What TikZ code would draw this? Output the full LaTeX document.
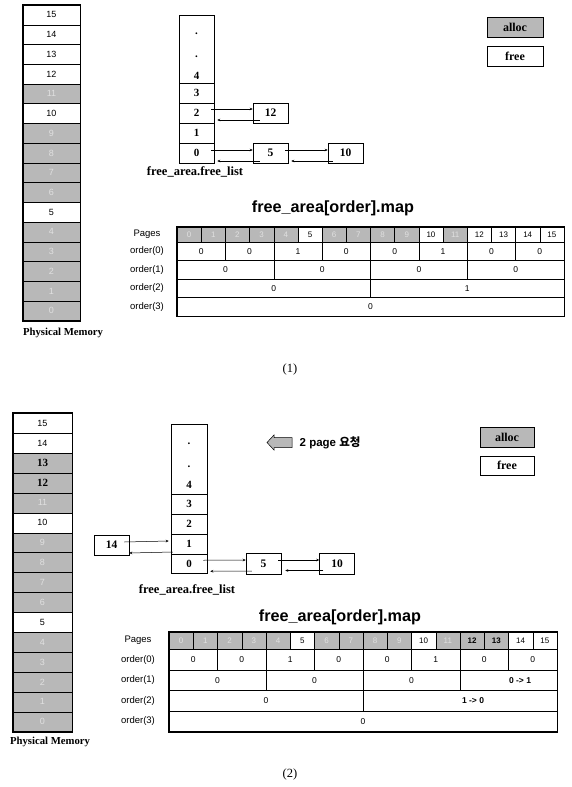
\documentclass[tikz,border=0pt]{standalone}
\usepackage{fontspec}
\setmainfont{Liberation Serif}
\setsansfont{Liberation Sans}
\newfontfamily\kr{Noto Sans CJK KR}
\usetikzlibrary{arrows.meta,calc}
\definecolor{shade}{gray}{0.72}
\tikzset{
  mem/.style={draw, line width=0.4pt, minimum width=57pt, inner sep=0pt, font=\sffamily\fontsize{9}{10}\selectfont},
  fr/.style={fill=white},
  al/.style={fill=shade, text=black!12},
  alb/.style={fill=shade, text=black, font=\rmfamily\bfseries\fontsize{11}{12}\selectfont},
  outerline/.style={draw, line width=1.3pt},
  flcell/.style={draw, line width=0.5pt, minimum width=35pt, minimum height=20pt, inner sep=0pt, font=\rmfamily\bfseries\fontsize{11}{12}\selectfont},
  fltxt/.style={inner sep=0pt, font=\rmfamily\bfseries\fontsize{11}{12}\selectfont},
  lbox/.style={draw, line width=0.5pt, minimum width=35pt, minimum height=20.5pt, inner sep=0pt, font=\rmfamily\bfseries\fontsize{11.5}{12}\selectfont},
  conn/.style={-{Stealth[length=3pt,width=2.6pt]}, line width=0.5pt},
  lbl/.style={inner sep=0pt, font=\rmfamily\bfseries\fontsize{10.7}{12}\selectfont},
  fllbl/.style={inner sep=0pt, font=\rmfamily\bfseries\fontsize{12.5}{13}\selectfont},
  leg/.style={draw, line width=0.6pt, inner sep=0pt, font=\rmfamily\bfseries\fontsize{12}{13}\selectfont},
  maptitle/.style={inner sep=0pt, font=\sffamily\bfseries\fontsize{16.2}{18}\selectfont},
  rowlbl/.style={inner sep=0pt, font=\sffamily\fontsize{9.5}{11}\selectfont},
  tcell/.style={draw, line width=0.4pt, inner sep=0pt, font=\sffamily\fontsize{8.5}{9}\selectfont},
  pcell/.style={draw, line width=0.4pt, inner sep=0pt, font=\sffamily\fontsize{8}{9}\selectfont},
  talb/.style={fill=shade, text=black, font=\sffamily\bfseries\fontsize{8}{9}\selectfont},
  chg/.style={inner sep=0pt, font=\sffamily\bfseries\fontsize{8.5}{9}\selectfont},
  captxt/.style={inner sep=0pt, font=\rmfamily\fontsize{12.5}{14}\selectfont},
}
\begin{document}
\begin{tikzpicture}[x=1pt,y=-1pt]
\useasboundingbox (0,0) rectangle (571,787);

%%%%%%%%%%%%%%%% PART 1 %%%%%%%%%%%%%%%%
% physical memory
\foreach \n/\s [count=\k from 0] in {15/fr,14/fr,13/fr,12/fr,11/al,10/fr,9/al,8/al,7/al,6/al,5/fr,4/al,3/al,2/al,1/al,0/al}
  \node[mem,\s,minimum height=19.73pt] (ma\n) at (51.5,{5+19.73*(\k+0.5)}) {\n};
\draw[outerline] (ma15.north west) rectangle (ma0.south east);
\node[lbl] (pma) at (63,333) {Physical Memory};

% free list
\node[flcell, minimum height=68pt] (fa-top) at (196.5,49) {};
\node[fltxt, anchor=base] (fa-d1) at (196.5,34) {.};
\node[fltxt, anchor=base] (fa-d2) at (196.5,57) {.};
\node[fltxt] (fa-4) at (196.5,76) {4};
\node[flcell] (fa-3) at (196.5,93) {3};
\node[flcell] (fa-2) at (196.5,113) {2};
\node[flcell] (fa-1) at (196.5,133) {1};
\node[flcell] (fa-0) at (196.5,153) {0};
\node[lbox] (ba-12) at (270.5,113) {12};
\node[lbox] (ba-5) at (270.5,153) {5};
\node[lbox] (ba-10) at (345.5,153) {10};
\node[fllbl] (fla) at (195,172) {free\_area.free\_list};

\draw[conn] ($(fa-2.east)+(-3,-4)$) -- ($(ba-12.west)+(0,-4)$);
\draw[conn] ($(ba-12.west)+(7,7)$) -- ($(fa-2.east)+(3,7)$);
\draw[conn] ($(fa-0.east)+(-3,-3)$) -- ($(ba-5.west)+(0,-3)$);
\draw[conn] ($(ba-5.west)+(7,8)$) -- ($(fa-0.east)+(3,8)$);
\draw[conn] ($(ba-5.east)+(-3,-3)$) -- ($(ba-10.west)+(0,-3)$);
\draw[conn] ($(ba-10.west)+(5,8)$) -- ($(ba-5.east)+(3,8)$);

% legend
\node[leg, fill=shade, minimum width=56pt, minimum height=20pt] (lga) at (515,27) {alloc};
\node[leg, minimum width=56pt, minimum height=20pt] (lfa) at (515,56) {free};

% map
\node[maptitle] (ta) at (333,208) {free\_area[order].map};
\node[rowlbl] (ra-p) at (147,234.5) {Pages};
\node[rowlbl] (ra-0) at (147,251.25) {order(0)};
\node[rowlbl] (ra-1) at (147,269.75) {order(1)};
\node[rowlbl] (ra-2) at (147,288.25) {order(2)};
\node[rowlbl] (ra-3) at (147,306.75) {order(3)};
\foreach \i/\s in {0/al,1/al,2/al,3/al,4/al,5/fr,6/al,7/al,8/al,9/al,10/fr,11/al,12/fr,13/fr,14/fr,15/fr}
  \node[pcell,\s,minimum width=24.1875pt,minimum height=15pt] (pa\i) at ({177+24.1875*(\i+0.5)},234.5) {\i};
\foreach \v [count=\j from 0] in {0,0,1,0,0,1,0,0}
  \node[tcell,minimum width=48.375pt,minimum height=18.5pt] (oa0-\j) at ({177+48.375*(\j+0.5)},251.25) {\v};
\foreach \v [count=\j from 0] in {0,0,0,0}
  \node[tcell,minimum width=96.75pt,minimum height=18.5pt] (oa1-\j) at ({177+96.75*(\j+0.5)},269.75) {\v};
\foreach \v [count=\j from 0] in {0,1}
  \node[tcell,minimum width=193.5pt,minimum height=18.5pt] (oa2-\j) at ({177+193.5*(\j+0.5)},288.25) {\v};
\node[tcell,minimum width=387pt,minimum height=18.5pt] (oa3-0) at (370.5,306.75) {0};
\draw[outerline] (pa0.north west) rectangle (oa3-0.south east);

\node[captxt] (c1) at (290,369) {(1)};

%%%%%%%%%%%%%%%% PART 2 %%%%%%%%%%%%%%%%
\foreach \n/\s [count=\k from 0] in {15/fr,14/fr,13/alb,12/alb,11/al,10/fr,9/al,8/al,7/al,6/al,5/fr,4/al,3/al,2/al,1/al,0/al}
  \node[mem,\s,minimum height=19.9pt,minimum width=59pt] (mb\n) at (42.5,{413.3+19.9*(\k+0.5)}) {\n};
\draw[outerline] (mb15.north west) rectangle (mb0.south east);
\node[lbl] (pmb) at (50,742) {Physical Memory};

\node[flcell, minimum width=36pt, minimum height=70pt] (fb-top) at (189,459) {};
\node[fltxt, anchor=base] (fb-d1) at (189,444) {.};
\node[fltxt, anchor=base] (fb-d2) at (189,467) {.};
\node[fltxt] (fb-4) at (189,485) {4};
\node[flcell, minimum width=36pt] (fb-3) at (189,504) {3};
\node[flcell, minimum width=36pt] (fb-2) at (189,524) {2};
\node[flcell, minimum width=36pt] (fb-1) at (189,544) {1};
\node[flcell, minimum width=36pt, minimum height=19.5pt] (fb-0) at (189,563.75) {0};
\node[lbox] (bb-14) at (111.5,545) {14};
\node[lbox] (bb-5) at (263.5,563.5) {5};
\node[lbox] (bb-10) at (337,563.5) {10};
\node[fllbl] (flb) at (187,590) {free\_area.free\_list};

\draw[conn] ($(bb-14.east)+(-5,-3)$) -- ($(fb-1.west)+(-2,-3)$);
\draw[conn] ($(fb-1.west)+(2,8)$) -- ($(bb-14.east)+(0,8)$);
\draw[conn] ($(fb-0.east)+(-4,-3.5)$) -- ($(bb-5.west)+(0,-3.5)$);
\draw[conn] ($(bb-5.west)+(6,7.5)$) -- ($(fb-0.east)+(3,7.5)$);
\draw[conn] ($(bb-5.east)+(-3,-3.5)$) -- ($(bb-10.west)+(0,-3.5)$);
\draw[conn] ($(bb-10.west)+(4,7)$) -- ($(bb-5.east)+(4,7)$);

% request arrow (block arrow pointing left)
\draw[line width=0.5pt, fill=shade] (267,442.5) -- (274,435) -- (274,437.5) -- (292,437.5) -- (292,447.5) -- (274,447.5) -- (274,450) -- cycle;
\node[anchor=west, inner sep=0pt, font=\sffamily\bfseries\fontsize{11.5}{13}\selectfont] (reqt) at (299.5,442.5) {2 page {\kr\bfseries 요청}};

\node[leg, fill=shade, minimum width=54pt, minimum height=20pt] (lgb) at (507,437) {alloc};
\node[leg, minimum width=54pt, minimum height=19pt] (lfb) at (507,465.5) {free};

\node[maptitle] (tb) at (340,617) {free\_area[order].map};
\node[rowlbl] (rb-p) at (138,640.5) {Pages};
\node[rowlbl] (rb-0) at (138,659.6) {order(0)};
\node[rowlbl] (rb-1) at (138,680.2) {order(1)};
\node[rowlbl] (rb-2) at (138,700.8) {order(2)};
\node[rowlbl] (rb-3) at (138,721.4) {order(3)};
\foreach \i/\s in {0/al,1/al,2/al,3/al,4/al,5/fr,6/al,7/al,8/al,9/al,10/fr,11/al,12/talb,13/talb,14/fr,15/fr}
  \node[pcell,\s,minimum width=24.25pt,minimum height=17.6pt] (pb\i) at ({169+24.25*(\i+0.5)},640.5) {\i};
\foreach \v [count=\j from 0] in {0,0,1,0,0,1,0,0}
  \node[tcell,minimum width=48.5pt,minimum height=20.6pt] (ob0-\j) at ({169+48.5*(\j+0.5)},659.6) {\v};
\foreach \v [count=\j from 0] in {0,0,0}
  \node[tcell,minimum width=97pt,minimum height=20.6pt] (ob1-\j) at ({169+97*(\j+0.5)},680.2) {\v};
\node[tcell,minimum width=97pt,minimum height=20.6pt] (ob1-3) at (508.5,680.2) {};
\node[chg] (ob1-3t) at (520,680.2) {0 -> 1};
\node[tcell,minimum width=194pt,minimum height=20.6pt] (ob2-0) at (266,700.8) {0};
\node[tcell,minimum width=194pt,minimum height=20.6pt] (ob2-1) at (460,700.8) {};
\node[chg] (ob2-1t) at (473,700.8) {1 -> 0};
\node[tcell,minimum width=388pt,minimum height=20.6pt] (ob3-0) at (363,721.4) {0};
\draw[outerline] (pb0.north west) rectangle (ob3-0.south east);

\node[captxt] (c2) at (290,774) {(2)};
\end{tikzpicture}
\end{document}
